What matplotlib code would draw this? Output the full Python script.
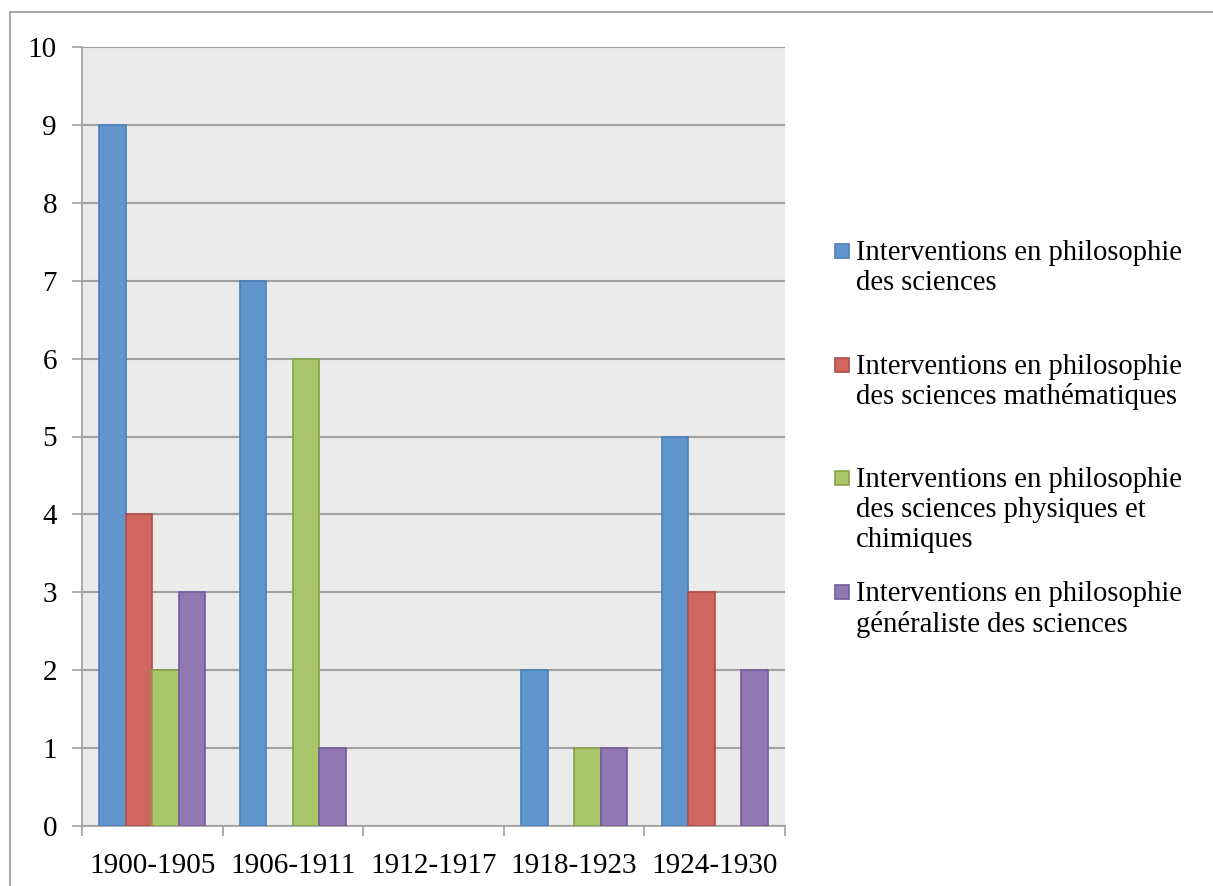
import numpy as np
import matplotlib
matplotlib.use("Agg")
import matplotlib.pyplot as plt
from matplotlib.patches import Rectangle

# Data
periods = ["1900-1905", "1906-1911", "1912-1917", "1918-1923", "1924-1930"]
phil_sciences = [9, 7, 0, 2, 5]
phil_maths = [4, 0, 0, 0, 3]
phil_physique = [2, 6, 0, 1, 0]
phil_generaliste = [3, 1, 0, 1, 2]
labels = ["Interventions en philosophie\ndes sciences",
          "Interventions en philosophie\ndes sciences mathématiques",
          "Interventions en philosophie\ndes sciences physiques et\nchimiques",
          "Interventions en philosophie\ngénéraliste des sciences"]

series = [phil_sciences, phil_maths, phil_physique, phil_generaliste]
fills = ["#6096CB", "#CF6660", "#A9C56A", "#9278B3"]
edges = ["#4A7EBB", "#B14C48", "#86A34C", "#735A99"]

plt.rcParams["font.family"] = ["Liberation Serif", "DejaVu Serif"]
FS = 21
LFS = 20.6

W, H = 1213, 886
fig = plt.figure(figsize=(W / 100, H / 100), dpi=100)
fig.patches.append(Rectangle((10 / W, -0.1), 1.5, 1 - 12 / H + 0.1,
                             transform=fig.transFigure, fill=False,
                             edgecolor="#9A9A9A", linewidth=1.2))

ax = fig.add_axes([82 / W, 1 - 826 / H, (785 - 82) / W, (826 - 47) / H])
ax.set_facecolor("#EBEBEB")

x = np.arange(len(periods))
bw = 0.1886
for i, vals in enumerate(series):
    bars = ax.bar(x + (i - 1.5) * bw, vals, width=bw, color=fills[i],
                  edgecolor=edges[i], linewidth=1.2, zorder=3)
    for b in bars:
        if b.get_height() == 0:
            b.set_visible(False)

ax.set_xlim(-0.5, len(periods) - 0.5)
ax.set_ylim(0, 10)
ax.set_yticks(range(0, 11))
ax.yaxis.grid(True, color="#A0A0A0", linewidth=1.5, zorder=1)
ax.set_axisbelow(True)

ax.set_xticks(x)
ax.set_xticklabels(periods, fontsize=FS)
ax.set_xticks(np.arange(-0.5, len(periods)), minor=True)
ax.tick_params(axis="x", which="major", length=0, pad=19.5)
ax.tick_params(axis="x", which="minor", length=7.2, width=1.2, color="#A0A0A0", direction="out")
ax.tick_params(axis="y", length=7.2, width=1.2, color="#A0A0A0", direction="out",
               labelsize=FS, pad=10.8)

for s in ["top", "right"]:
    ax.spines[s].set_visible(False)
for s in ["left", "bottom"]:
    ax.spines[s].set_color("#A0A0A0")
    ax.spines[s].set_linewidth(1.2)

# Legend, Excel style: entries evenly spaced from the top line
top0 = 253
step = 113.7
lh = 30
for i, lab in enumerate(labels):
    yc = top0 + i * step
    fig.patches.append(Rectangle((835 / W, 1 - (yc + 5) / H), 14 / W, 14 / H,
                                 transform=fig.transFigure, facecolor=fills[i],
                                 edgecolor=edges[i], linewidth=1.2))
    for j, line in enumerate(lab.split("\n")):
        fig.text(856 / W, 1 - (yc + j * lh) / H, line, fontsize=LFS,
                 va="center", ha="left")

fig.savefig("out.png", dpi=100)
